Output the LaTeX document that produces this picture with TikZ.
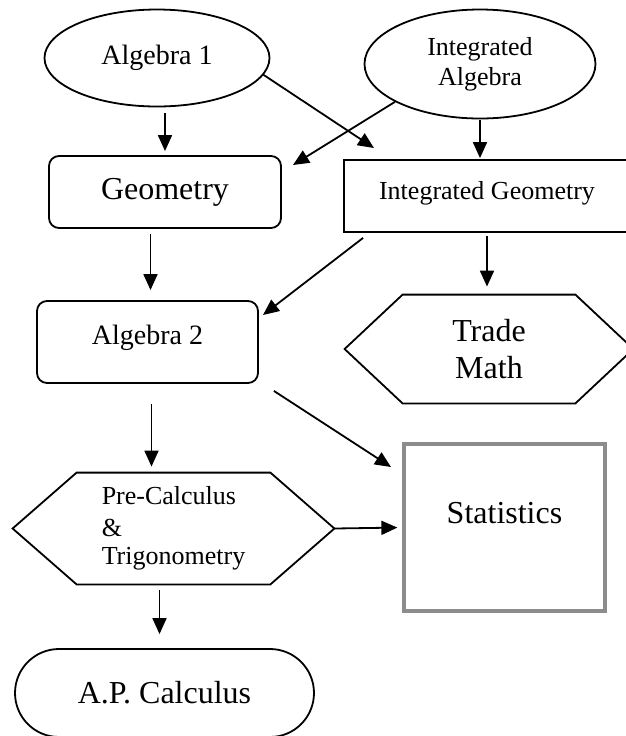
\documentclass[tikz,border=0pt]{standalone}
\usepackage{fontspec}
\setmainfont{Liberation Serif}
\usetikzlibrary{shapes.geometric, shapes.misc, arrows.meta}

% hexagon outline round a plain node
\newcommand{\hexpath}[2]{%
  \draw[outline] (#1.west) -- ([xshift=#2]#1.north west) -- ([xshift=-#2]#1.north east)
    -- (#1.east) -- ([xshift=-#2]#1.south east) -- ([xshift=#2]#1.south west) -- cycle;}

\begin{document}
\begin{tikzpicture}[
    x=0.5pt, y=-0.5pt,
    outline/.style={draw=black, line width=0.9pt},
    txtbig/.style={font=\fontsize{16}{18.5}\selectfont},
    txtmid/.style={font=\fontsize{14}{16}\selectfont},
    txtsmall/.style={font=\fontsize{13}{15}\selectfont},
    oval/.style={ellipse, outline, inner sep=0pt, align=center},
    roundbox/.style={rectangle, rounded corners=5pt, outline, inner sep=0pt},
    plainbox/.style={rectangle, outline, inner sep=0pt},
    hexbox/.style={rectangle, inner sep=0pt},
    statbox/.style={rectangle, draw=black!45, line width=1.6pt, inner sep=0pt},
    pill/.style={rounded rectangle, outline, inner sep=0pt},
    arr/.style={-{Triangle[length=8pt,width=7pt]}, line width=0.9pt}
]
    \useasboundingbox (0,0) rectangle (626,736);
    \clip (0,0) rectangle (626,736);

    % Top row
    \node[oval, txtmid, minimum width=112.5pt, minimum height=48.5pt] (alg1) at (157,58) {Algebra 1};
    \node[oval, txtsmall, minimum width=115.5pt, minimum height=54.5pt] (intalg) at (480,64) {Integrated\\Algebra};

    % Second row
    \node[roundbox, txtbig, minimum width=116pt, minimum height=36pt] (geom) at (165,192) {Geometry};
    \node[plainbox, txtsmall, minimum width=143pt, minimum height=36pt, text depth=6pt] (intgeom) at (487,196) {Integrated Geometry};

    % Third row
    \node[roundbox, txtmid, minimum width=110.5pt, minimum height=41pt, text depth=7pt] (alg2) at (147.5,342) {Algebra 2};
    \node[hexbox, txtbig, align=center, minimum width=144pt, minimum height=54pt] (trade) at (489,349) {Trade\\Math};
    \hexpath{trade}{29pt}

    % Fourth row
    \node[hexbox, txtsmall, align=left, minimum width=160.5pt, minimum height=55.5pt] (precalc) at (173.5,528.5) {Pre-Calculus\\[0.8pt]\&\\[-0.8pt]Trigonometry};
    \hexpath{precalc}{32pt}
    \node[statbox, txtbig, minimum width=100.5pt, minimum height=83.5pt, text depth=15pt] (stats) at (504.5,527.5) {Statistics};

    % Bottom
    \node[pill, txtbig, minimum width=149.5pt, minimum height=44pt] (ap) at (164.5,693) {A.P. Calculus};

    % Free arrow ends
    \coordinate (alg1-ig) at (374,148);
    \coordinate (intalg-g) at (293,165);
    \coordinate (ig-alg2) at (263,315);
    \coordinate (stats-in) at (391,467);

    % Arrows
    \draw[arr, shorten <=3pt, shorten >=2pt] (alg1.south -| geom.north) -- (geom.north);
    \draw[arr] (alg1.-9) -- (alg1-ig);
    \draw[arr] (intalg.204) -- (intalg-g);
    \draw[arr, shorten <=0.5pt, shorten >=0.5pt] (intalg.south) -- (intalg.south |- intgeom.north);
    \draw[arr, shorten <=2.5pt, shorten >=5pt] ([xshift=1.5pt]geom.south -| alg2.north) -- ([xshift=1.5pt]alg2.north);
    \draw[arr] ([shift={(10pt,-2.5pt)}]intgeom.south west) -- (ig-alg2);
    \draw[arr, shorten <=1.5pt, shorten >=4pt] (intgeom.south) -- (intgeom.south |- trade.north);
    \draw[arr] ([shift={(7.5pt,-3.5pt)}]alg2.south east) -- (stats-in);
    \draw[arr, shorten <=10pt, shorten >=3pt] ([xshift=2pt]alg2.south) -- ([xshift=2pt]alg2.south |- precalc.north);
    \draw[arr, shorten >=2.5pt] (precalc.east) -- (stats.west);
    \draw[arr, shorten <=3pt, shorten >=7pt] ([xshift=-2.5pt]precalc.south -| ap.north) -- ([xshift=-2.5pt]ap.north);
\end{tikzpicture}
\end{document}
